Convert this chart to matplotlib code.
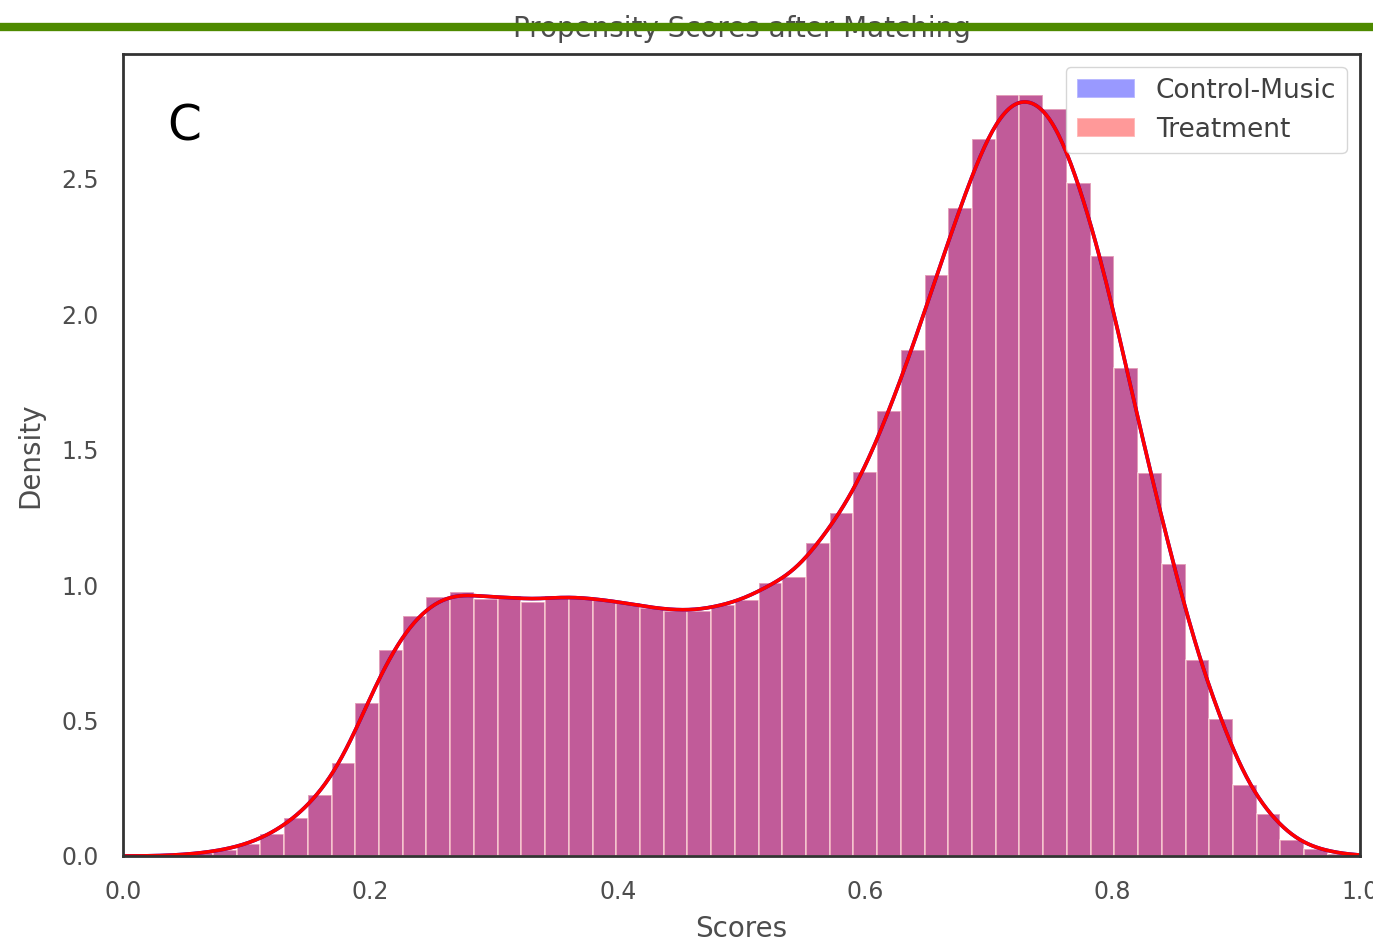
import matplotlib
matplotlib.use("Agg")
import matplotlib.pyplot as plt
import numpy as np
import seaborn as sns
from matplotlib.lines import Line2D

# matched propensity scores, histogram densities (50 bins between min and max score)
score_min, score_max = 0.0344, 0.9932
n_bins = 50
control_density = [
    0.003, 0.010, 0.022, 0.043, 0.081, 0.139, 0.225, 0.345, 0.566, 0.760,
    0.884, 0.955, 0.976, 0.950, 0.960, 0.939, 0.960, 0.955, 0.945, 0.933,
    0.915, 0.906, 0.904, 0.927, 0.945, 1.007, 1.031, 1.155, 1.265, 1.419,
    1.641, 1.869, 2.146, 2.392, 2.647, 2.810, 2.810, 2.757, 2.484, 2.213,
    1.801, 1.412, 1.076, 0.722, 0.504, 0.262, 0.155, 0.058, 0.025, 0.008,
]
# after matching both groups end up with the same score distribution
treatment_density = list(control_density)

groups = ["Control-Music", "Treatment"]
colors = ["blue", "red"]
kde_bw = 0.017

sns.set_style("white")
plt.rcParams["font.family"] = ["DejaVu Sans"]

fig = plt.figure(figsize=(13.73, 9.42), dpi=100)
ax = fig.add_axes([0.0896, 0.0913, 0.9009, 0.8514])

edges = np.linspace(score_min, score_max, n_bins + 1)
centers = (edges[:-1] + edges[1:]) / 2
width = edges[1] - edges[0]
grid = np.linspace(0, 1, 600)


def kde(density):
    w = np.asarray(density) * width
    z = (grid[:, None] - centers[None, :]) / kde_bw
    return (w[None, :] * np.exp(-0.5 * z ** 2)).sum(axis=1) / (kde_bw * np.sqrt(2 * np.pi))


for name, dens, col in zip(groups, [control_density, treatment_density], colors):
    ax.bar(edges[:-1], dens, width=width, align="edge", color=col, alpha=0.4,
           edgecolor="white", linewidth=1.2, label=name)
    ax.plot(grid, kde(dens), color=col, lw=2.6)

ax.set_xlim(0, 1)
ax.set_ylim(0, 2.96)
ax.set_xticks(np.arange(0, 1.01, 0.2))
ax.set_yticks(np.arange(0, 2.6, 0.5))
ax.xaxis.set_major_formatter(matplotlib.ticker.FormatStrFormatter("%.1f"))
ax.yaxis.set_major_formatter(matplotlib.ticker.FormatStrFormatter("%.1f"))
ax.tick_params(labelsize=17, colors=".3", pad=14)
for s in ax.spines.values():
    s.set_color(".2")
    s.set_linewidth(2)

ax.set_xlabel("Scores", fontsize=20, color=".3", labelpad=8)
ax.set_ylabel("Density", fontsize=20, color=".3", labelpad=12)
ax.set_title("Propensity Scores after Matching", fontsize=20, color=".3", pad=12)
ax.text(0.036, 0.91, "C", transform=ax.transAxes, fontsize=35, color="black",
        va="center", ha="left")

leg = ax.legend(loc="upper right", fontsize=19, frameon=True, handlelength=2.2,
                borderaxespad=0.5, labelspacing=0.5)
for t in leg.get_texts():
    t.set_color(".25")

# green strike line across the top
fig.add_artist(Line2D([0, 1], [0.971, 0.971], transform=fig.transFigure,
                      color="#4e8a00", lw=6, solid_capstyle="butt"))

fig.savefig("out.png", dpi=100)
